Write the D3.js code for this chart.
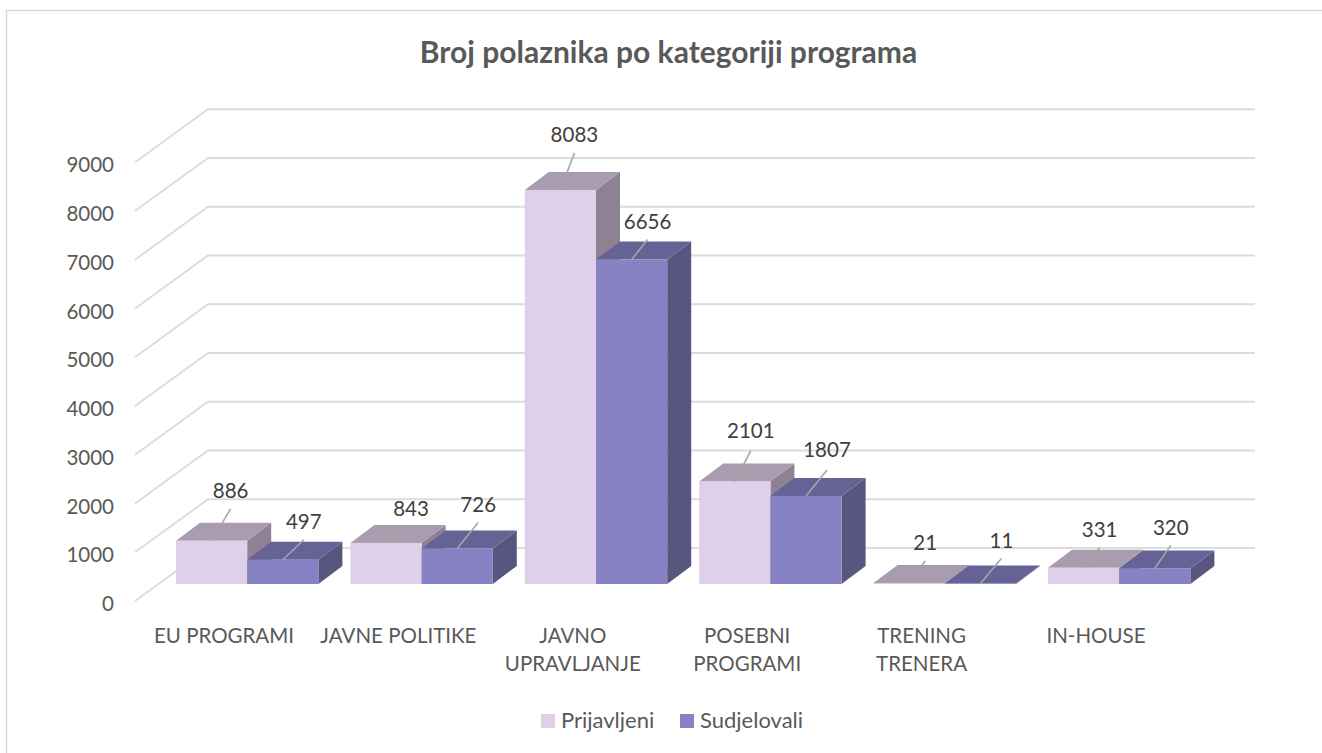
<!DOCTYPE html>
<html><head><meta charset="utf-8">
<script src="https://cdn.jsdelivr.net/npm/d3@7"></script>
<style>html,body{margin:0;padding:0;background:#fff}svg{display:block}text{font-family:Lato,sans-serif}</style>
</head><body><div id="c"></div>
<script>
const title = "Broj polaznika po kategoriji programa";
const categories = [["EU PROGRAMI"],["JAVNE POLITIKE"],["JAVNO","UPRAVLJANJE"],["POSEBNI","PROGRAMI"],["TRENING","TRENERA"],["IN-HOUSE"]];
const seriesNames = ["Prijavljeni","Sudjelovali"];
const prijavljeni = [886,843,8083,2101,21,331];
const sudjelovali = [497,726,6656,1807,11,320];
const tickValues = [0,1000,2000,3000,4000,5000,6000,7000,8000,9000];

const W=1322,H=753;
const svg=d3.select("#c").append("svg").attr("width",W).attr("height",H);
svg.append("path").attr("d","M6.5,753V10.5H1322").attr("fill","none").attr("stroke","#d9d9d9").attr("stroke-width",1.5);

svg.append("text").attr("x",668.5).attr("y",63).attr("text-anchor","middle").attr("font-size",30).attr("font-weight",700).attr("fill","#595959").text(title);

const domain=[0,9000], span=438.75;
const yFront=d3.scaleLinear().domain(domain).range([601,601-span]);
const yBack=d3.scaleLinear().domain(domain).range([548,548-span]);
const yBar=d3.scaleLinear().domain(domain).range([584,584-span]);
const xC=d3.scalePoint().domain(d3.range(categories.length)).range([224,1096]);
const xS=d3.scaleBand().domain([0,1]).range([-48,94.4]).padding(0);
const dx=24,dy=18;

const grid=svg.append("g").attr("fill","none").attr("stroke","#dcdcdc").attr("stroke-width",2);
tickValues.forEach(t=>{
  grid.append("path").attr("d",`M135,${yFront(t)}L208,${yBack(t)}L1255,${yBack(t)}`);
});

const axis=d3.axisLeft(yFront).tickValues(tickValues).tickSize(0).tickPadding(0).tickFormat(d3.format("d"));
const ag=svg.append("g").attr("transform","translate(114,3)").call(axis);
ag.select(".domain").remove();
ag.selectAll("text").attr("font-size",20.5).attr("fill","#595959").style("font-family","Lato,sans-serif");

const colors=[{f:"#dfcfe9",t:"#a99cae",s:"#8e8194"},{f:"#8682c3",t:"#656295",s:"#58557f"}];
[prijavljeni,sudjelovali].forEach((vals,si)=>{
  const c=colors[si], g=svg.append("g");
  vals.forEach((v,i)=>{
    const x0=xC(i)+xS(si), x1=x0+xS.bandwidth(), y0=yBar(0), y1=yBar(v);
    g.append("path").attr("fill",c.s).attr("d",`M${x1},${y0}L${x1+dx},${y0-dy}L${x1+dx},${y1-dy}L${x1},${y1}Z`);
    g.append("path").attr("fill",c.t).attr("d",`M${x0},${y1}L${x0+dx},${y1-dy}L${x1+dx},${y1-dy}L${x1},${y1}Z`);
    g.append("rect").attr("x",x0).attr("y",y1).attr("width",x1-x0).attr("height",y0-y1).attr("fill",c.f);
  });
});

/* leader line tip and label offset from each bar's front top-centre */
const leaderTip=[[[19,-32],[21,-20]],[[25,-16],[21,-26]],[[14,-37],[16,-20]],[[16,-31],[21,-26]],[[16,-22],[21,-25]],[[16,-20],[16,-23]]];
const labelGap=[18,18,18,20,18,18];
[prijavljeni,sudjelovali].forEach((vals,si)=>{
  vals.forEach((v,i)=>{
    const cx=xC(i)+xS(si)+xS.bandwidth()/2, y1=yBar(v);
    const [tx,ty]=leaderTip[i][si];
    svg.append("line").attr("x1",cx).attr("y1",y1).attr("x2",cx+tx).attr("y2",y1+ty).attr("stroke","#a6a6a6").attr("stroke-width",1.6);
    svg.append("text").attr("x",cx+tx).attr("y",y1+ty-labelGap[i]).attr("dy","0.35em").attr("text-anchor","middle").attr("font-size",20.5).attr("fill","#404040").text(v);
  });
});

categories.forEach((lines,i)=>{
  lines.forEach((l,j)=>{
    svg.append("text").attr("x",xC(i)).attr("y",643+j*28).attr("text-anchor","middle").attr("font-size",20.5).attr("fill","#595959").text(l);
  });
});

const legendX=[541,680];
seriesNames.forEach((n,i)=>{
  svg.append("rect").attr("x",legendX[i]).attr("y",714).attr("width",14).attr("height",14).attr("fill",colors[i].f);
  svg.append("text").attr("x",legendX[i]+20).attr("y",728).attr("font-size",22).attr("fill","#595959").text(n);
});
</script></body></html>
